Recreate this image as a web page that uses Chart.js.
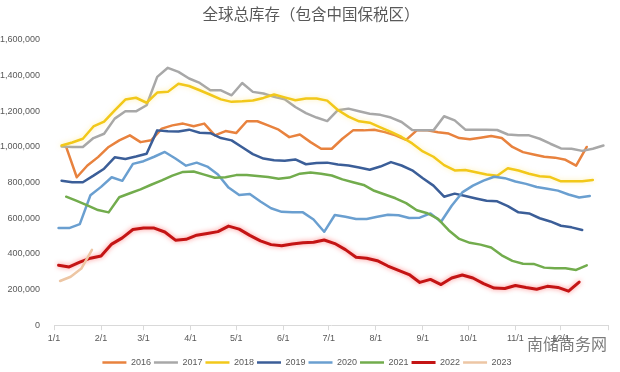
<!DOCTYPE html>
<html>
<head>
<meta charset="utf-8">
<script src="https://cdn.jsdelivr.net/npm/chart.js@4.4.1/dist/chart.umd.min.js"></script>
<style>
  html, body { margin: 0; padding: 0; background: #fff; }
</style>
</head>
<body>
<canvas id="chart" width="620" height="372"></canvas>
<script>
// x axis: day of year, labelled at the first of each month
const monthLabels = ['1/1', '2/1', '3/1', '4/1', '5/1', '6/1', '7/1', '8/1', '9/1', '10/1', '11/1', '12/1', ''];
const monthStarts = [0, 31, 59, 90, 120, 151, 181, 212, 243, 273, 304, 334, 365];

const years = ['2016', '2017', '2018', '2019', '2020', '2021', '2022', '2023'];
// day of year of each year's first weekly reading
const firstWeekDay = [8, 5, 5, 5, 3, 8, 3, 4];

// weekly inventory, thousand tonnes
const inv2016 = [1000, 830, 896, 943, 1000, 1037, 1065, 1027, 1037, 1103, 1121, 1131, 1116, 1131, 1065, 1089, 1078, 1144, 1144, 1121,
  1097, 1055, 1070, 1027, 990, 990, 1046, 1093, 1093, 1097, 1083, 1065, 1040, 1093, 1093, 1083, 1075, 1050, 1043, 1052,
  1061, 1050, 1000, 971, 958, 945, 940, 928, 895, 1000];
const inv2017 = [1003, 1000, 1000, 1050, 1074, 1159, 1200, 1200, 1234, 1393, 1444, 1421, 1384, 1359, 1318, 1318, 1290, 1359, 1309, 1300,
  1281, 1268, 1224, 1190, 1165, 1145, 1206, 1215, 1200, 1186, 1180, 1165, 1140, 1095, 1093, 1093, 1172, 1149, 1097, 1097,
  1097, 1095, 1070, 1065, 1065, 1046, 1018, 992, 990, 978, 990, 1008];
const inv2018 = [1008, 1025, 1046, 1115, 1142, 1205, 1266, 1276, 1248, 1305, 1309, 1355, 1342, 1318, 1293, 1267, 1253, 1256, 1261, 1275,
  1294, 1278, 1262, 1272, 1272, 1260, 1207, 1170, 1144, 1136, 1110, 1085, 1056, 1020, 975, 945, 898, 868, 871, 858,
  845, 839, 881, 868, 850, 836, 831, 807, 807, 807, 815];
const inv2019 = [811, 802, 802, 839, 878, 942, 932, 946, 962, 1093, 1088, 1087, 1097, 1080, 1077, 1050, 1037, 998, 960, 935,
  925, 922, 930, 903, 910, 912, 901, 896, 885, 872, 890, 915, 896, 869, 824, 783, 721, 738, 725, 711,
  698, 695, 668, 633, 627, 600, 582, 558, 549, 534];
const inv2020 = [545, 545, 567, 729, 776, 830, 810, 905, 920, 945, 972, 935, 895, 912, 890, 845, 772, 730, 736, 694,
  656, 636, 633, 633, 593, 524, 618, 608, 596, 596, 608, 620, 617, 601, 603, 627, 580, 670, 745, 783,
  811, 833, 825, 806, 793, 775, 765, 755, 733, 716, 725];
const inv2021 = [721, 697, 672, 646, 633, 718, 740, 762, 788, 812, 839, 860, 862, 845, 827, 830, 842, 843, 837, 831,
  822, 828, 850, 856, 850, 840, 818, 802, 787, 754, 733, 712, 685, 645, 628, 596, 533, 484, 462, 452,
  436, 392, 361, 345, 344, 323, 319, 319, 310, 336];
const inv2022 = [336, 327, 354, 376, 388, 455, 490, 537, 545, 545, 523, 477, 482, 505, 515, 525, 556, 539, 504, 473,
  452, 446, 456, 462, 465, 478, 458, 424, 381, 376, 362, 332, 308, 284, 240, 257, 228, 265, 282, 265,
  233, 208, 206, 223, 211, 202, 218, 212, 191, 242];
const inv2023 = [248, 272, 318, 423];

const series = [inv2016, inv2017, inv2018, inv2019, inv2020, inv2021, inv2022, inv2023];
const colors = ['#E8823E', '#A8A8A8', '#F2C81A', '#3B5E98', '#6A9FD0', '#72AC4D', '#C41414', '#EDC6A4'];

const titleText = '全球总库存（包含中国保税区）';
const tickFont = { family: "'Liberation Sans', Arial, sans-serif", size: 9 };
const textColor = '#595959';

const datasets = years.map((year, i) => ({
  label: year,
  data: series[i].map((v, w) => ({ x: firstWeekDay[i] + w * 7, y: v * 1000 })),
  borderColor: colors[i],
  backgroundColor: colors[i],
  borderWidth: i === 6 ? 3 : 2.5,
  glow: i === 6 ? 'rgba(255, 40, 40, 0.55)' : (i === 2 ? 'rgba(255, 225, 90, 0.5)' : null),
  order: years.length - i
}));

// soft glow behind a few lines, like the Excel original
const glowPlugin = {
  id: 'glow',
  beforeDatasetDraw(chart, args) {
    const ds = chart.data.datasets[args.index];
    if (!ds.glow) return;
    chart.ctx.save();
    chart.ctx.shadowColor = ds.glow;
    chart.ctx.shadowBlur = 5;
  },
  afterDatasetDraw(chart, args) {
    if (chart.data.datasets[args.index].glow) chart.ctx.restore();
  }
};

// title and source watermark
const texts = {
  id: 'texts',
  afterDraw(chart) {
    const ctx = chart.ctx;
    ctx.save();
    ctx.textBaseline = 'middle';
    ctx.textAlign = 'center';
    ctx.fillStyle = textColor;
    ctx.font = "15.5px 'Noto Sans CJK SC'";
    ctx.fillText(titleText, 311, 14);

    ctx.font = "16px 'Noto Sans CJK SC'";
    ctx.textAlign = 'right';
    ctx.fillStyle = 'rgba(100,100,100,0.85)';
    ctx.fillText('南储商务网', 607, 344);
    ctx.restore();
  }
};

new Chart(document.getElementById('chart'), {
  type: 'line',
  data: { datasets },
  plugins: [glowPlugin, texts],
  options: {
    responsive: false,
    animation: false,
    layout: { padding: { left: 0, right: 6, top: 40, bottom: -5 } },
    elements: {
      point: { radius: 0 },
      line: { tension: 0, borderJoinStyle: 'round', borderCapStyle: 'round' }
    },
    plugins: {
      title: { display: false },
      legend: {
        position: 'bottom',
        labels: {
          usePointStyle: true,
          pointStyle: 'line',
          pointStyleWidth: 24,
          padding: 3,
          color: textColor,
          font: tickFont,
          sort: (a, b) => a.datasetIndex - b.datasetIndex
        }
      },
      tooltip: { enabled: false }
    },
    scales: {
      x: {
        type: 'linear',
        min: 0,
        max: 365,
        afterBuildTicks: (scale) => { scale.ticks = monthStarts.map(v => ({ value: v })); },
        afterFit: (scale) => { scale.height += 8; },
        ticks: {
          autoSkip: false,
          maxRotation: 0,
          color: textColor,
          font: tickFont,
          padding: 3,
          callback: (v, i) => monthLabels[i]
        },
        grid: { drawOnChartArea: false, drawTicks: true, tickLength: 5, color: '#D9D9D9' },
        border: { color: '#D9D9D9' }
      },
      y: {
        min: 0,
        max: 1600000,
        afterFit: (scale) => { scale.width = 54; },
        ticks: {
          stepSize: 200000,
          color: textColor,
          font: tickFont,
          padding: 6,
          callback: (v) => v.toLocaleString('en-US')
        },
        grid: { display: false },
        border: { display: false }
      },
      // empty right-hand spacer so the plot ends where the original does
      yRight: {
        position: 'right',
        min: 0,
        max: 1600000,
        afterFit: (scale) => { scale.width = 6; },
        ticks: { display: false },
        grid: { display: false },
        border: { display: false }
      }
    }
  }
});
</script>
</body>
</html>
